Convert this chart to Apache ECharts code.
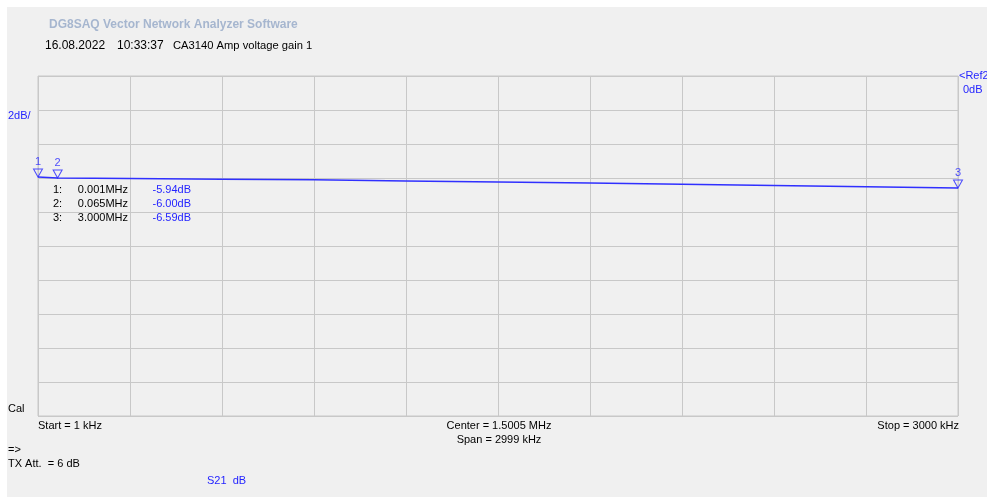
<!DOCTYPE html>
<html><head><meta charset="utf-8">
<script src="https://cdn.jsdelivr.net/npm/echarts@6/dist/echarts.min.js"></script>
<style>html,body{margin:0;padding:0;background:#fff}#c{width:987px;height:497px}</style>
</head><body><div id="c"></div><script>
// S21 trace (MHz, dB)
const freqMHz = [0.001, 0.065, 0.3, 0.6, 0.9, 1.2, 1.5, 1.8, 2.1, 2.4, 2.7, 3.0];
const s21dB   = [-5.94, -6.00, -6.03, -6.07, -6.11, -6.17, -6.23, -6.30, -6.37, -6.44, -6.51, -6.59];
// markers
const markerNames = ['1', '2', '3'];
const markerFreq = [0.001, 0.065, 3.000];
const markerDb = [-5.94, -6.00, -6.59];
// axis ranges
const startMHz = 0.001, stopMHz = 3.0;
const refDb = 0, dbPerDiv = 2, divisions = 10;

const BLUE = '#2424ff';
const FONT = 'Liberation Sans';
const chart = echarts.init(document.getElementById('c'));

function txt(x, y, s, opt) {
  return Object.assign({type: 'text', x: x, y: y,
    style: Object.assign({text: s, fill: '#000', font: '11px "' + FONT + '"', textVerticalAlign: 'middle'}, opt || {})});
}
const graphics = [
  {type: 'rect', shape: {x: 0, y: 0, width: 987, height: 7}, style: {fill: '#fff'}},
  {type: 'rect', shape: {x: 0, y: 0, width: 7, height: 497}, style: {fill: '#fff'}},
  txt(49, 25, 'DG8SAQ Vector Network Analyzer Software', {fill: '#a6b6cf', font: 'bold 12px "' + FONT + '"'}),
  txt(45, 46, '16.08.2022', {font: '12px "' + FONT + '"'}),
  txt(117, 46, '10:33:37', {font: '12px "' + FONT + '"'}),
  txt(173, 46, 'CA3140 Amp voltage gain 1', {font: '11.2px "' + FONT + '"'}),
  txt(8, 116, '2dB/', {fill: BLUE}),
  txt(959, 76, '<Ref2', {fill: BLUE}),
  txt(963, 90, '0dB', {fill: BLUE}),
  txt(8, 409, 'Cal'),
  txt(38, 426, 'Start = 1 kHz'),
  txt(499, 426, 'Center = 1.5005 MHz', {textAlign: 'center'}),
  txt(499, 440, 'Span = 2999 kHz', {textAlign: 'center'}),
  txt(959, 426, 'Stop = 3000 kHz', {textAlign: 'right'}),
  txt(8, 450, '=>'),
  txt(8, 464, 'TX Att.  = 6 dB'),
  txt(207, 481, 'S21  dB', {fill: BLUE})
];
const rowY = [190, 204, 218];
for (let i = 0; i < markerNames.length; i++) {
  graphics.push(txt(53, rowY[i], markerNames[i] + ':'));
  graphics.push(txt(128, rowY[i], markerFreq[i].toFixed(3) + 'MHz', {textAlign: 'right'}));
  graphics.push(txt(191, rowY[i], markerDb[i].toFixed(2) + 'dB', {textAlign: 'right', fill: BLUE}));
}

chart.setOption({
  backgroundColor: '#f0f0f0',
  animation: false,
  grid: {left: 38, right: 29, top: 76, bottom: 81, show: true, borderColor: '#c8c8c8', borderWidth: 1, backgroundColor: 'transparent'},
  xAxis: [
    {type: 'value', min: startMHz, max: stopMHz, show: false},
    {type: 'value', min: 0, max: divisions, interval: 1, axisLine: {show: false}, axisTick: {show: false}, axisLabel: {show: false},
     splitLine: {show: true, lineStyle: {color: '#c8c8c8', width: 1}}}
  ],
  yAxis: {type: 'value', min: refDb - dbPerDiv * divisions, max: refDb, interval: dbPerDiv,
    axisLine: {show: false}, axisTick: {show: false}, axisLabel: {show: false},
    splitLine: {show: true, lineStyle: {color: '#c8c8c8', width: 1}}},
  graphic: graphics,
  series: [
    {type: 'line', xAxisIndex: 0, data: freqMHz.map((f, i) => [f, s21dB[i]]), symbol: 'none',
     lineStyle: {color: '#3030ff', width: 1.5}, z: 3},
    {type: 'scatter', xAxisIndex: 0, data: markerFreq.map((f, i) => ({name: markerNames[i], value: [f, markerDb[i]]})),
     symbol: 'triangle', symbolRotate: 180, symbolSize: [9, 8], symbolOffset: [0, -4],
     itemStyle: {color: 'rgba(0,0,0,0)', borderColor: BLUE, borderWidth: 1},
     label: {show: true, position: 'top', distance: 1, formatter: p => p.name, color: BLUE, fontSize: 11, fontFamily: FONT},
     z: 4}
  ]
});
</script></body></html>
